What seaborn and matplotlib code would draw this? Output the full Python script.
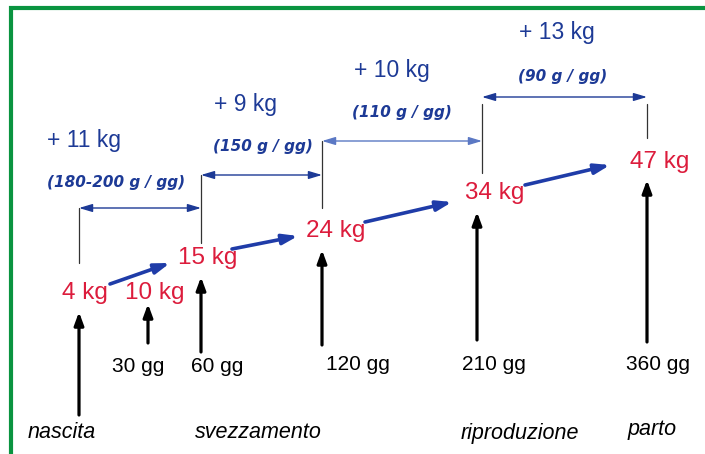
import matplotlib
matplotlib.use("Agg")
from matplotlib import pyplot as plt
import seaborn as sns

# data
day_labels = ["", "30 gg", "60 gg", "120 gg", "210 gg", "360 gg"]
weights = [4, 10, 15, 24, 34, 47]
gains = [11, 9, 10, 13]
rates = ["180-200", "150", "110", "90"]
phases = ["nascita", "svezzamento", "riproduzione", "parto"]

# layout (pixel-like coords, y down)
arrow_x = [79, 148, 201, 322, 477, 647]
arrow_bot = [415, 343, 352, 345, 340, 342]
arrow_top = [312, 304, 277, 250, 212, 180]
w_pos = [(85, 293), (155, 293), (208, 258), (336, 231), (495, 193), (660, 162)]
day_pos = [None, (138, 367), (217, 367), (358, 365), (494, 365), (658, 365)]
phase_pos = [(62, 432), (258, 433), (520, 433), (652, 430)]
br_x = [79, 201, 322, 482, 647]
br_y = [208, 175, 141, 97]
ticks = [(208, 263), (175, 243), (141, 208), (104, 173), (104, 138)]
gain_pos = [(84, 140), (245, 105), (392, 70), (557, 33)]
rate_pos = [(116, 183), (263, 147), (402, 113), (563, 77)]
links = [((110, 284), (170, 263)), ((232, 249), (298, 236)),
         ((365, 222), (452, 202)), ((525, 185), (610, 165))]

red = "#dc1c3c"
navy = "#1d3a96"
blue_arrow = "#1f3ca8"
green = "#0a9440"

sns.set_theme(style="white")
plt.rcParams['font.family'] = ['Liberation Sans', 'DejaVu Sans']

fig = plt.figure(figsize=(7.05, 4.54), dpi=100)
ax = fig.add_axes([0, 0, 1, 1])
ax.set_xlim(0, 705)
ax.set_ylim(454, 0)
ax.axis("off")

# green frame
ax.plot([11, 11, 705], [454, 8, 8], color=green, lw=3, solid_joinstyle="miter")

# black upward arrows
for x, b, t in zip(arrow_x, arrow_bot, arrow_top):
    ax.annotate("", xy=(x, t), xytext=(x, b),
                arrowprops=dict(arrowstyle="-|>,head_length=0.38,head_width=0.14",
                                lw=2.3, color="black", shrinkA=0, shrinkB=0,
                                mutation_scale=20))

# weights
for w, (x, y) in zip(weights, w_pos):
    ax.text(x, y, f"{w} kg", color=red, fontsize=17.5, ha="center", va="center")

# days
for lab, p in zip(day_labels, day_pos):
    if p is None:
        continue
    ax.text(p[0], p[1], lab, color="black", fontsize=15, ha="center", va="center")

# phases
for lab, (x, y) in zip(phases, phase_pos):
    ax.text(x, y, lab, color="black", fontsize=15.5, style="italic",
            ha="center", va="center")

# bracket ticks
for x, (y0, y1) in zip(br_x, ticks):
    ax.plot([x, x], [y0, y1], color="#333333", lw=0.9)

# horizontal double arrows
for i, y in enumerate(br_y):
    c = "#5b78c4" if i == 2 else navy
    ax.annotate("", xy=(br_x[i + 1], y), xytext=(br_x[i], y),
                arrowprops=dict(arrowstyle="<|-|>,head_length=0.4,head_width=0.12",
                                lw=1.0, color=c, shrinkA=0, shrinkB=0,
                                mutation_scale=20))

# gains and daily rates
for g, (x, y) in zip(gains, gain_pos):
    ax.text(x, y, f"+ {g} kg", color=navy, fontsize=16.5, ha="center", va="center")
for r, (x, y) in zip(rates, rate_pos):
    ax.text(x, y, f"({r} g / gg)", color=navy, fontsize=11, family="DejaVu Sans",
            weight="bold", style="italic", ha="center", va="center")

# blue links between weights
for s, e in links:
    ax.annotate("", xy=e, xytext=s,
                arrowprops=dict(arrowstyle="-|>,head_length=0.45,head_width=0.15",
                                lw=2.6, color=blue_arrow, shrinkA=0, shrinkB=0,
                                mutation_scale=20))

fig.savefig("out.png", dpi=100)
